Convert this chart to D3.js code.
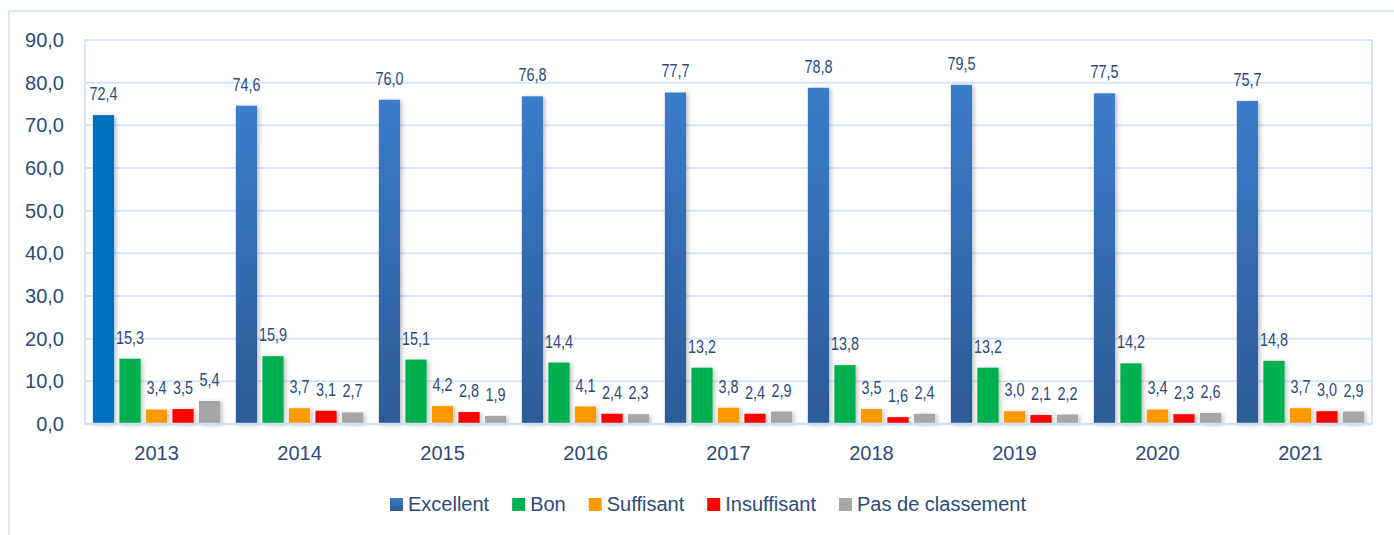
<!DOCTYPE html>
<html>
<head>
<meta charset="utf-8">
<script src="https://cdn.jsdelivr.net/npm/d3@7"></script>
<style>
    html, body { margin: 0; padding: 0; background: #fff; }
    text { font-family: 'Liberation Sans', Arial, sans-serif; }
</style>
</head>
<body>
<div id="example"></div>
<script>
var years = ['2013', '2014', '2015', '2016', '2017', '2018', '2019', '2020', '2021'];
var seriesNames = ['Excellent', 'Bon', 'Suffisant', 'Insuffisant', 'Pas de classement'];
var excellent = [72.4, 74.6, 76.0, 76.8, 77.7, 78.8, 79.5, 77.5, 75.7];
var bon = [15.3, 15.9, 15.1, 14.4, 13.2, 13.8, 13.2, 14.2, 14.8];
var suffisant = [3.4, 3.7, 4.2, 4.1, 3.8, 3.5, 3.0, 3.4, 3.7];
var insuffisant = [3.5, 3.1, 2.8, 2.4, 2.4, 1.6, 2.1, 2.3, 3.0];
var pasDeClassement = [5.4, 2.7, 1.9, 2.3, 2.9, 2.4, 2.2, 2.6, 2.9];
var yTicks = [0, 10, 20, 30, 40, 50, 60, 70, 80, 90];

(function () {

    var width = 1394,
        height = 535,
        left = 85,
        right = 1372,
        top = 40,
        bottom = 424,
        textColor = '#2c4a7c',
        gridColor = '#d8e4f4';

    var values = [excellent, bon, suffisant, insuffisant, pasDeClassement];
    var colors = ['url(#blueGrad)', '#00b050', '#ff9900', '#ff0000', '#a6a6a6'];

    var fmt = function (v) { return v.toFixed(1).replace('.', ','); };

    var svg = d3.select('#example')
        .append('svg')
        .attr('width', width)
        .attr('height', height);

    var defs = svg.append('defs');
    var grad = defs.append('linearGradient')
        .attr('id', 'blueGrad')
        .attr('x1', 0).attr('y1', 0).attr('x2', 0).attr('y2', 1);
    grad.append('stop').attr('offset', '0%').attr('stop-color', '#3b7ccb');
    grad.append('stop').attr('offset', '100%').attr('stop-color', '#2c5a96');

    defs.append('filter')
        .attr('id', 'shadow')
        .attr('x', '-30%').attr('y', '-10%').attr('width', '170%').attr('height', '130%')
        .append('feDropShadow')
        .attr('dx', 2).attr('dy', 1)
        .attr('stdDeviation', 2)
        .attr('flood-color', '#000')
        .attr('flood-opacity', 0.25);

    // outer frame
    svg.append('path')
        .attr('d', 'M9,535 L9,11 L1394,11')
        .style('fill', 'none')
        .style('stroke', '#dce7f5')
        .style('stroke-width', 2);

    var y = d3.scaleLinear().domain([0, 90]).range([bottom, top]);
    var x0 = d3.scaleBand().domain(years).range([left, right])
        .paddingInner(0.073).paddingOuter(0.0367);
    var x1 = d3.scaleBand().domain(seriesNames).range([0, x0.bandwidth()])
        .paddingInner(0.2).paddingOuter(0.1);

    // grid
    svg.append('g')
        .selectAll('line')
        .data(yTicks)
        .enter()
        .append('line')
        .attr('x1', left).attr('x2', right)
        .attr('y1', function (d) { return y(d); })
        .attr('y2', function (d) { return y(d); })
        .style('stroke', gridColor)
        .style('stroke-width', 2);

    svg.append('rect')
        .attr('x', left).attr('y', top)
        .attr('width', right - left).attr('height', bottom - top)
        .style('fill', 'none')
        .style('stroke', gridColor)
        .style('stroke-width', 2);

    // y axis
    var yAxis = svg.append('g')
        .attr('transform', 'translate(' + 64 + ',0)')
        .call(d3.axisLeft(y).tickValues(yTicks).tickSize(0).tickPadding(0).tickFormat(fmt));
    yAxis.select('.domain').remove();
    yAxis.selectAll('text')
        .style('font-size', '20px')
        .style('fill', textColor);

    // x axis
    var xAxis = svg.append('g')
        .attr('transform', 'translate(0,' + bottom + ')')
        .call(d3.axisBottom(x0).tickSize(0).tickPadding(22));
    xAxis.select('.domain').remove();
    xAxis.selectAll('text')
        .style('font-size', '20px')
        .style('fill', textColor);

    // bars
    var groups = svg.append('g')
        .selectAll('g')
        .data(years)
        .enter()
        .append('g')
        .attr('transform', function (d) { return 'translate(' + x0(d) + ',0)'; });

    var cells = groups.selectAll('g')
        .data(function (yr, i) {
            return seriesNames.map(function (s, k) {
                return {series: s, k: k, year: yr, i: i, value: values[k][i]};
            });
        })
        .enter()
        .append('g');

    cells.append('rect')
        .attr('x', function (d) { return x1(d.series); })
        .attr('y', function (d) { return y(d.value); })
        .attr('width', x1.bandwidth())
        .attr('height', function (d) { return y(0) - y(d.value); })
        .attr('filter', 'url(#shadow)')
        .style('fill', function (d) {
            if (d.k === 0 && d.i === 0) return '#0070c0';
            return colors[d.k];
        });

    // labels are condensed in the original
    cells.append('text')
        .attr('transform', function (d) {
            return 'translate(' + (x1(d.series) + x1.bandwidth() / 2) + ',' + (y(d.value) - 15) + ') scale(0.76,1)';
        })
        .style('text-anchor', 'middle')
        .style('font-size', '19px')
        .style('fill', textColor)
        .text(function (d) { return fmt(d.value); });

    // axis base line
    svg.append('line')
        .attr('x1', left).attr('x2', right)
        .attr('y1', bottom).attr('y2', bottom)
        .style('stroke', '#d0def0')
        .style('stroke-width', 2.5);

    // legend
    var legend = svg.append('g').attr('transform', 'translate(0,511)');
    var items = legend.selectAll('g')
        .data(seriesNames)
        .enter()
        .append('g');
    items.append('rect')
        .attr('y', -13)
        .attr('width', 13).attr('height', 13)
        .style('fill', function (d, k) { return colors[k]; });
    items.append('text')
        .attr('x', 18)
        .style('font-size', '20px')
        .style('fill', textColor)
        .text(function (d) { return d; });

    var pos = 390;
    items.each(function () {
        var g = d3.select(this),
            w = g.select('text').node().getComputedTextLength();
        g.attr('transform', 'translate(' + pos + ',0)');
        pos += 18 + w + 23;
    });
}());
</script>
</body>
</html>
